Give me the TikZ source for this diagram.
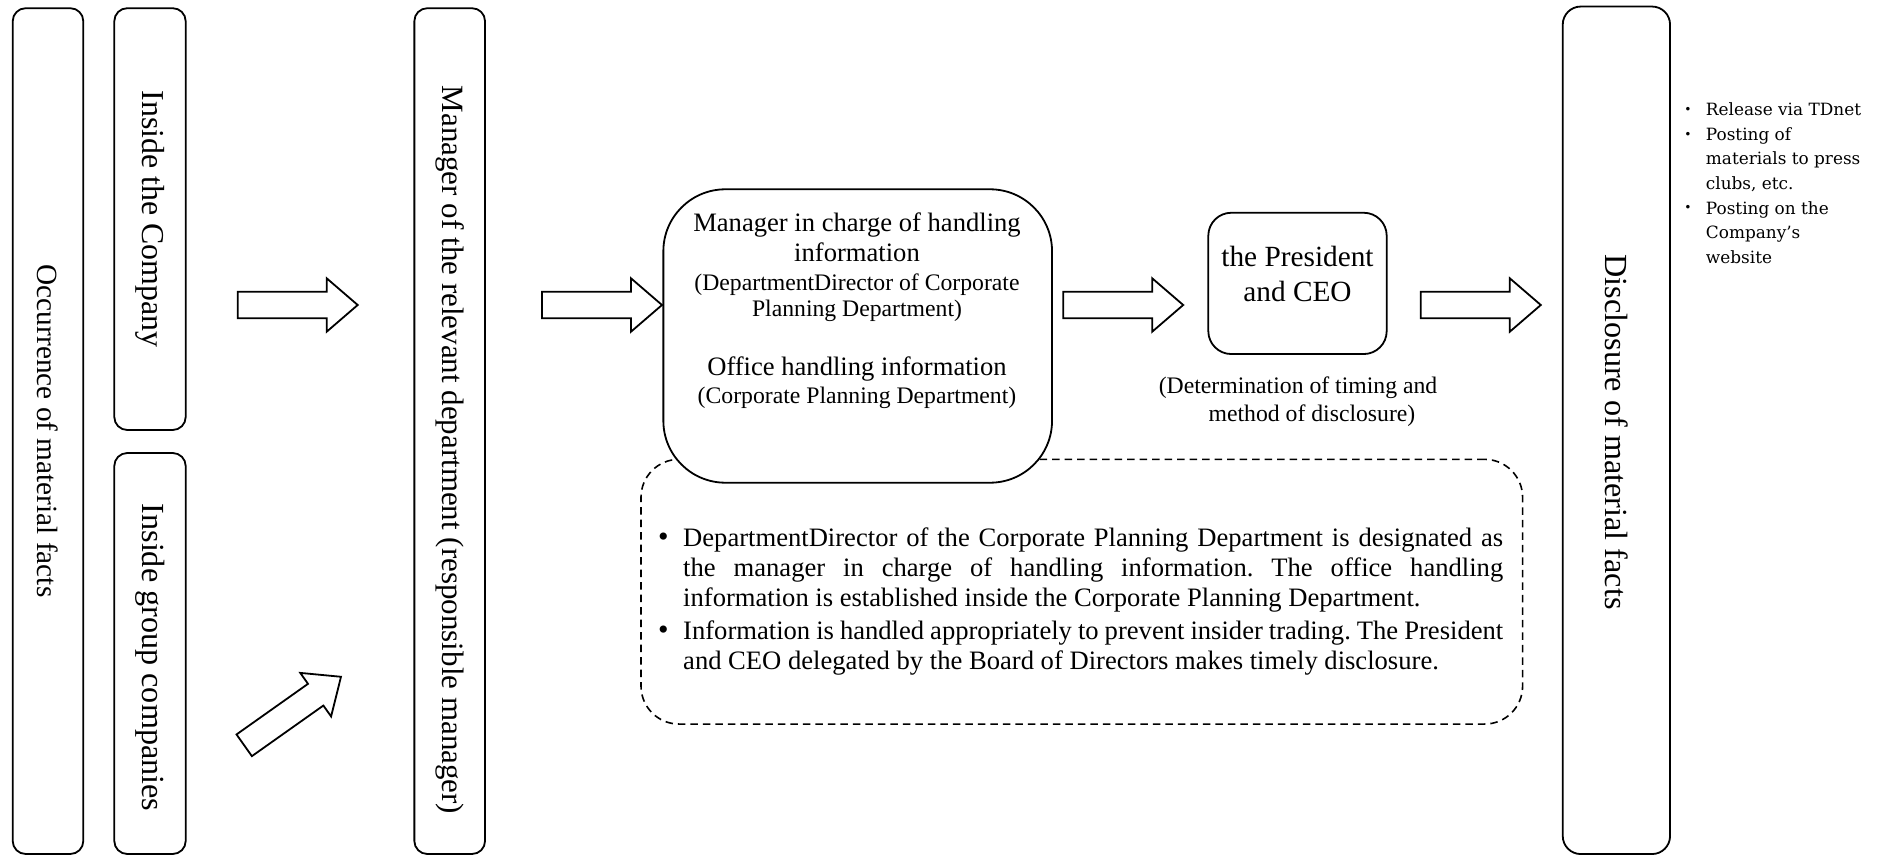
\documentclass[tikz,border=0pt]{standalone}
\usepackage{fontspec}
\setmainfont{Liberation Serif}
\newfontfamily\dvs{DejaVu Serif}
\newfontfamily\cjk{Noto Sans CJK JP}
\newcommand\fsz[2]{\fontsize{#1pt}{#2pt}\selectfont}
\begin{document}
\begin{tikzpicture}[x=1pt,y=-1pt,
  box/.style={draw,line width=1.8pt,inner sep=0pt,fill=white},
  vbox/.style={box,rotate=-90},
  vtext/.style={inner sep=0pt,rotate=-90},
  lbl/.style={inner sep=0pt,anchor=base},
  big/.style={font=\fsz{26.6}{30}},
  small/.style={font=\fsz{23.7}{28}},
  blockarr/.style={draw,line width=1.8pt,fill=white,line join=miter,miter limit=10},
  pics/barrow/.style={code={\draw[blockarr] (0,-13.3) -- ({#1-31},-13.3) -- ({#1-31},-26.7) -- (#1,0) -- ({#1-31},26.7) -- ({#1-31},13.3) -- (0,13.3) -- cycle;}},
]
\useasboundingbox (0,0) rectangle (1877,856);

% tall boxes
\node[vbox,minimum width=845.8pt,minimum height=70.6pt,rounded corners=13pt] (occ) at (48,431.1) {};
\node[vtext,font=\fsz{29.3}{34}] (occt) at (occ.center) {Occurrence of material facts};
\node[vbox,minimum width=421.8pt,minimum height=71.4pt,rounded corners=13pt] (inco) at (150,219.1) {};
\node[vtext,font=\fsz{31.9}{36}] (incot) at (inco.center) {Inside the Company};
\node[vbox,minimum width=401pt,minimum height=71.4pt,rounded corners=13pt] (ingr) at (150,653.5) {};
\node[vtext,font=\fsz{32.2}{36}] (ingrt) at ([yshift=-4pt]ingr.center) {Inside group companies};
\node[vbox,minimum width=845.8pt,minimum height=70.7pt,rounded corners=13pt] (mgr) at (449.7,431.1) {};
\node[vtext,font=\fsz{31}{36}] (mgrt) at (449.7,450) {Manager of the relevant department (responsible manager)};
\node[vbox,minimum width=847.5pt,minimum height=107.3pt,rounded corners=18pt] (disc) at (1616.4,430.3) {};
\node[vtext,font=\fsz{32.2}{36}] (disct) at (1616.4,432) {Disclosure of material facts};

% dashed note box
\node[draw,dash pattern=on 7.5pt off 5pt,line width=1.6pt,rounded corners=38pt,minimum width=881.6pt,minimum height=264.7pt,inner sep=0pt] (note) at (1081.8,591.7) {};
\node[inner sep=0pt,text width=845pt,anchor=north west,font=\fsz{26.6}{30},align=justify] (notetext) at (658,525.7) {%
\frenchspacing\setlength\parskip{3pt}\tolerance=10000\hyphenpenalty=10000%
\hangindent=25pt\hangafter=1\noindent\makebox[25pt][l]{\strut\fsz{30}{30}•}DepartmentDirector of the Corporate Planning Department is designated as\linebreak the manager in charge of handling information. The office handling\linebreak information is established inside the Corporate Planning Department.\par
\hangindent=25pt\hangafter=1\noindent\makebox[25pt][l]{\strut\fsz{30}{30}•}Information is handled appropriately to prevent insider trading. The President\linebreak and CEO delegated by the Board of Directors makes timely disclosure.\par};

% handling box
\node[box,minimum width=388.7pt,minimum height=293.4pt,rounded corners=62pt] (hand) at (857.7,336) {};
\node[lbl,big] (m1) at (857,231.7) {Manager in charge of handling};
\node[lbl,big] (m2) at (857,261.7) {information};
\node[lbl,small] (m3) at (857,290.7) {(DepartmentDirector of Corporate};
\node[lbl,small] (m4) at (857,316.7) {Planning Department)};
\node[lbl,big] (m5) at (857,375) {Office handling information};
\node[lbl,small] (m6) at (857,403.3) {(Corporate Planning Department)};

% president box
\node[box,minimum width=178.4pt,minimum height=141.3pt,rounded corners=23pt] (pres) at (1297.5,283.4) {};
\node[lbl,font=\fsz{29.3}{35}] (p1) at (1297.5,266.7) {the President};
\node[lbl,font=\fsz{29.3}{35}] (p2) at (1297.5,301.7) {and CEO};
\node[lbl,small] (c1) at (1298,393) {(Determination of timing and};
\node[lbl,small] (c2) at (1312,421.7) {method of disclosure)};

% block arrows
\pic at (237.7,305) {barrow=120};
\pic[rotate=35.3] at (244.2,745.3) {barrow=118.6};
\pic at (542,305) {barrow=120};
\pic at (1063.2,305) {barrow=120};
\pic at (1420.8,305) {barrow=120};

% right list
\node[inner sep=0pt,anchor=north west,align=left,font=\dvs\fsz{16.9}{24.55}] (list) at (1705.7,98.5) {\strut Release via TDnet\\Posting of\\materials to press\\clubs, etc.\\Posting on the\\Company’s\\website};
\node[lbl,font=\cjk\fsz{16.7}{20}] (b1) at (1688,115.7) {・};
\node[lbl,font=\cjk\fsz{16.7}{20}] (b2) at (1688,140.2) {・};
\node[lbl,font=\cjk\fsz{16.7}{20}] (b3) at (1688,213.9) {・};
\end{tikzpicture}
\end{document}
